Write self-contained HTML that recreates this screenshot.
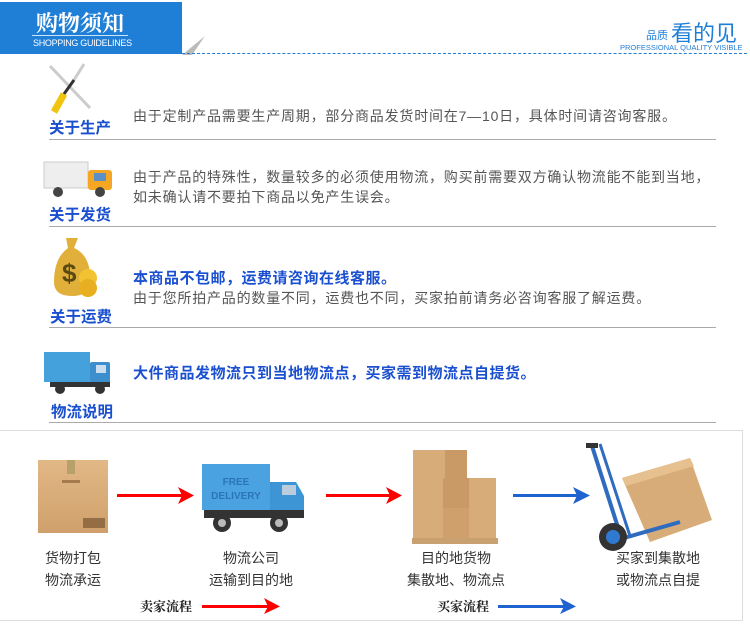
<!DOCTYPE html>
<html><head><meta charset="utf-8"><style>
body{margin:0;width:750px;height:630px;background:#fff;position:relative;overflow:hidden;font-family:"Liberation Sans","Noto Sans CJK SC",sans-serif}
.a{position:absolute;white-space:nowrap}
.lab{color:#1a4fd0;font-weight:bold;font-size:15.5px}
.t{color:#555;font-size:14px;line-height:20px;letter-spacing:0.8px}
.b{color:#1a4fd0;font-weight:bold;font-size:15px;letter-spacing:0.5px}
.hl{position:absolute;left:49px;width:667px;height:1px;background:#aaa}
.c{color:#333;font-size:14px;line-height:22px;text-align:center;width:120px}
</style></head><body>
<div class="a" style="left:0;top:2px;width:182px;height:52px;background:#1f7ed6"></div>
<div class="a" style="left:36px;top:7px;color:#fff;font-size:22px;font-weight:bold;font-family:'Noto Serif CJK SC',serif">购物须知</div>
<div class="a" style="left:32px;top:35px;width:96px;height:1px;background:#cfe3f7"></div>
<div class="a" style="left:33px;top:38px;color:#fff;font-size:9px;letter-spacing:-0.3px">SHOPPING GUIDELINES</div>
<svg class="a" style="left:182px;top:36px" width="24" height="19"><polygon points="0,19 23,0 10,19" fill="#bbb"/></svg>
<div class="a" style="left:182px;top:53px;width:565px;border-top:1px dashed #1f7ed6"></div>
<div class="a" style="left:646px;top:27px;color:#1f7ed6;font-size:11px">品质</div>
<div class="a" style="left:671px;top:16px;color:#1f7ed6;font-size:22px">看的见</div>
<div class="a" style="left:620px;top:43px;color:#1f7ed6;font-size:7.5px">PROFESSIONAL QUALITY VISIBLE</div>

<svg class="a" style="left:44px;top:62px" width="56" height="52"><line x1="6" y1="4" x2="46" y2="46" stroke="#ccc" stroke-width="3"/><line x1="40" y1="2" x2="30" y2="18" stroke="#ccc" stroke-width="3"/><line x1="30" y1="18" x2="20" y2="32" stroke="#333" stroke-width="3"/><line x1="20" y1="32" x2="10" y2="50" stroke="#f1c40f" stroke-width="7"/></svg>
<div class="a lab" style="left:49px;top:116px">关于生产</div>
<div class="a t" style="left:133px;top:106px">由于定制产品需要生产周期，部分商品发货时间在7—10日，具体时间请咨询客服。</div>
<div class="hl" style="top:139px"></div>

<svg class="a" style="left:42px;top:160px" width="72" height="38"><rect x="2" y="2" width="44" height="26" fill="#eee" stroke="#ccc"/><rect x="46" y="10" width="24" height="20" rx="3" fill="#f5a623"/><rect x="52" y="13" width="12" height="8" fill="#5b8fc7"/><circle cx="16" cy="32" r="5" fill="#444"/><circle cx="58" cy="32" r="5" fill="#444"/></svg>
<div class="a lab" style="left:49px;top:203px">关于发货</div>
<div class="a t" style="left:133px;top:167px">由于产品的特殊性，数量较多的必须使用物流，购买前需要双方确认物流能不能到当地，<br>如未确认请不要拍下商品以免产生误会。</div>
<div class="hl" style="top:226px"></div>

<svg class="a" style="left:48px;top:234px" width="56" height="66"><path d="M18 4 L30 4 L26 14 Q44 22 42 50 Q40 62 24 62 Q6 62 6 48 Q6 24 20 14 Z" fill="#e0b03a"/><text x="14" y="48" font-size="26" font-weight="bold" fill="#5a4a10" font-family="Liberation Sans">$</text><circle cx="40" cy="44" r="9" fill="#f2c230"/><circle cx="40" cy="54" r="9" fill="#e8b020"/></svg>
<div class="a lab" style="left:50px;top:305px">关于运费</div>
<div class="a b" style="left:133px;top:267px">本商品不包邮，运费请咨询在线客服。</div>
<div class="a t" style="left:133px;top:288px">由于您所拍产品的数量不同，运费也不同，买家拍前请务必咨询客服了解运费。</div>
<div class="hl" style="top:327px"></div>

<svg class="a" style="left:42px;top:350px" width="72" height="46"><rect x="2" y="2" width="46" height="30" fill="#45a1dc"/><rect x="48" y="12" width="20" height="22" rx="2" fill="#3c8fcc"/><rect x="54" y="15" width="10" height="8" fill="#cde"/><rect x="8" y="32" width="60" height="5" fill="#333"/><circle cx="18" cy="39" r="5" fill="#333"/><circle cx="58" cy="39" r="5" fill="#333"/></svg>
<div class="a lab" style="left:51px;top:400px">物流说明</div>
<div class="a b" style="left:133px;top:362px">大件商品发物流只到当地物流点，买家需到物流点自提货。</div>
<div class="hl" style="top:422px"></div>

<div class="a" style="left:0;top:430px;width:742px;height:189px;border:1px solid #ddd;border-left:none"></div>

<svg class="a" style="left:0;top:430px" width="750" height="200">
<defs><linearGradient id="bx" x1="0" y1="0" x2="0" y2="1"><stop offset="0" stop-color="#e2b886"/><stop offset="1" stop-color="#cfa06b"/></linearGradient></defs>
<rect x="38" y="30" width="70" height="73" fill="url(#bx)"/><rect x="67" y="30" width="8" height="14" fill="#b8a06a"/><rect x="62" y="50" width="18" height="3" fill="#a57b4d"/><rect x="83" y="88" width="22" height="10" fill="#6a4a2a" opacity=".6"/>
<rect x="117" y="64" width="68" height="3" fill="red"/><polygon points="178,57 194,65.5 178,74 182,65.5" fill="red"/>
<rect x="202" y="34" width="68" height="46" fill="#4aa3e0"/><text x="236" y="55" font-size="10" fill="#2b74b8" text-anchor="middle" font-family="Liberation Sans" font-weight="bold">FREE</text><text x="236" y="69" font-size="10" fill="#2b74b8" text-anchor="middle" font-family="Liberation Sans" font-weight="bold">DELIVERY</text>
<path d="M270 52 L296 52 L304 66 L304 88 L270 88 Z" fill="#3d95d6"/><rect x="282" y="55" width="14" height="10" fill="#bcd"/><rect x="204" y="80" width="100" height="8" fill="#333"/><circle cx="222" cy="93" r="9" fill="#333"/><circle cx="222" cy="93" r="4" fill="#bbb"/><circle cx="279" cy="93" r="9" fill="#333"/><circle cx="279" cy="93" r="4" fill="#bbb"/>
<rect x="326" y="64" width="68" height="3" fill="red"/><polygon points="386,57 402,65.5 386,74 390,65.5" fill="red"/>
<rect x="413" y="20" width="32" height="28" fill="#d8ac78"/><rect x="445" y="20" width="22" height="28" fill="#c99a66"/><rect x="413" y="48" width="30" height="30" fill="#d8ac78"/><rect x="443" y="48" width="26" height="30" fill="#c99a66"/><rect x="469" y="48" width="27" height="30" fill="#d8ac78"/><rect x="413" y="78" width="30" height="30" fill="#d8ac78"/><rect x="443" y="78" width="26" height="30" fill="#cfa06b"/><rect x="469" y="78" width="27" height="30" fill="#d8ac78"/><rect x="412" y="108" width="86" height="6" fill="#c9a070"/>
<rect x="513" y="64" width="68" height="3" fill="#1f63d0"/><polygon points="573,57 590,65.5 573,74 577,65.5" fill="#1f63d0"/>
<line x1="592" y1="16" x2="622" y2="110" stroke="#2f6cc0" stroke-width="4"/><line x1="600" y1="14" x2="630" y2="106" stroke="#2f6cc0" stroke-width="3"/><rect x="586" y="13" width="12" height="5" fill="#333"/>
<polygon points="622,48 690,28 712,90 650,112" fill="#d8ac78"/><polygon points="622,48 690,28 694,36 626,56" fill="#e6c08e"/>
<line x1="610" y1="112" x2="680" y2="92" stroke="#2f6cc0" stroke-width="4"/><circle cx="613" cy="107" r="14" fill="#333"/><circle cx="613" cy="107" r="7" fill="#2f7ad0"/>
</svg>
<div class="a c" style="left:13px;top:547px">货物打包<br>物流承运</div>
<div class="a c" style="left:191px;top:547px">物流公司<br>运输到目的地</div>
<div class="a c" style="left:396px;top:547px">目的地货物<br>集散地、物流点</div>
<div class="a c" style="left:598px;top:547px">买家到集散地<br>或物流点自提</div>
<div class="a" style="left:140px;top:596px;font-size:13px;font-weight:bold;font-family:'Noto Serif CJK SC',serif;color:#222">卖家流程</div>
<svg class="a" style="left:202px;top:598px" width="80" height="16"><rect x="0" y="7" width="68" height="3" fill="red"/><polygon points="62,0 78,8.5 62,16 66,8.5" fill="red"/></svg>
<div class="a" style="left:437px;top:596px;font-size:13px;font-weight:bold;font-family:'Noto Serif CJK SC',serif;color:#222">买家流程</div>
<svg class="a" style="left:498px;top:598px" width="80" height="16"><rect x="0" y="7" width="68" height="3" fill="#1f63d0"/><polygon points="62,0 78,8.5 62,16 66,8.5" fill="#1f63d0"/></svg>
</body></html>
